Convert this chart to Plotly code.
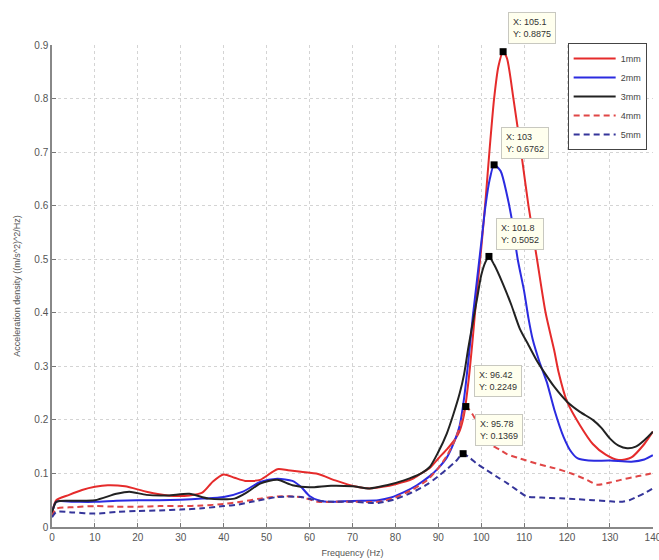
import plotly.graph_objects as go

# ---------------- data ----------------
f_1mm = [0, 1, 4, 7, 10, 13, 17, 22, 27, 32, 35, 37.5, 40, 42.5, 45, 48.5, 52.5, 55, 58, 62, 66, 71, 74,
         77, 80, 84, 86, 88, 90, 92, 94, 95, 96, 97, 98, 99, 100, 101, 102, 103, 104, 105.1, 106, 107.5,
         109.3, 111, 113, 115, 117, 118, 120, 123, 126, 129, 132, 135, 138, 140]
v_1mm = [0.025, 0.05, 0.06, 0.069, 0.075, 0.078, 0.076, 0.066, 0.059, 0.059, 0.064, 0.085, 0.098, 0.092,
         0.086, 0.088, 0.108, 0.106, 0.103, 0.099, 0.087, 0.075, 0.072, 0.075, 0.08, 0.09, 0.1, 0.11, 0.128,
         0.145, 0.165, 0.18, 0.21, 0.27, 0.35, 0.44, 0.52, 0.61, 0.71, 0.8, 0.86, 0.8875, 0.875, 0.8,
         0.7, 0.6, 0.5, 0.4, 0.33, 0.29, 0.234, 0.19, 0.155, 0.135, 0.125, 0.13, 0.155, 0.178]

f_2mm = [0, 1, 5, 10, 15, 20, 25, 30, 35, 40, 44.5, 48.5, 52.5, 56, 58, 60, 62, 64, 68, 72, 76, 79, 82,
         85, 88, 90, 92, 94, 95, 96, 97, 98, 99, 100, 101, 102, 103, 104.5, 106, 107, 108.5, 110, 111,
         112, 113.5, 115.3, 117, 119.2, 121, 122.5, 125, 130, 135, 138, 140]
v_2mm = [0.025, 0.047, 0.047, 0.047, 0.049, 0.05, 0.05, 0.051, 0.053, 0.056, 0.066, 0.084, 0.09, 0.086,
         0.075, 0.058, 0.05, 0.047, 0.048, 0.049, 0.05, 0.055, 0.065, 0.078, 0.095, 0.11, 0.13, 0.165,
         0.19, 0.24, 0.31, 0.39, 0.46, 0.53, 0.6, 0.65, 0.6762, 0.665, 0.62, 0.58, 0.5, 0.44, 0.39,
         0.35, 0.31, 0.27, 0.22, 0.168, 0.14, 0.128, 0.124, 0.124, 0.122, 0.126, 0.134]

f_3mm = [0, 1, 5, 10, 15, 18, 22, 27, 32, 36.5, 42.5, 45.5, 48.5, 52.5, 56, 60, 65, 70, 74, 78, 82, 86,
         88, 90, 92, 93.5, 95, 96, 97, 98, 99, 100, 101, 101.8, 103, 105, 107, 109, 111, 113, 115, 117,
         120, 123, 126, 128, 130, 132, 134, 136, 138, 140]
v_3mm = [0.025, 0.047, 0.049, 0.05, 0.062, 0.066, 0.06, 0.059, 0.062, 0.053, 0.053, 0.065, 0.081, 0.088,
         0.078, 0.074, 0.077, 0.076, 0.072, 0.078, 0.087, 0.1, 0.112, 0.14, 0.175, 0.21, 0.25, 0.285,
         0.335, 0.38, 0.425, 0.47, 0.495, 0.5052, 0.49, 0.455, 0.415, 0.37, 0.34, 0.31, 0.285, 0.262,
         0.234, 0.215, 0.2, 0.185, 0.165, 0.152, 0.147, 0.15, 0.162, 0.178]

f_4mm = [0, 1, 5, 10, 15, 20, 25, 30, 35, 40, 44, 48.5, 52.5, 58, 62, 66, 70, 76, 80, 84, 87.5, 90, 92,
         94, 95.5, 96.42, 98, 100, 102, 104.4, 106, 109, 113, 117, 121, 124.6, 127, 130, 132.5, 136,
         139.5, 140]
v_4mm = [0.02, 0.034, 0.037, 0.039, 0.038, 0.038, 0.039, 0.039, 0.04, 0.043, 0.047, 0.053, 0.057, 0.056,
         0.047, 0.047, 0.047, 0.047, 0.055, 0.07, 0.088, 0.11, 0.133, 0.165, 0.2, 0.2249, 0.21, 0.18,
         0.155, 0.144, 0.136, 0.128, 0.118, 0.11, 0.1, 0.088, 0.079, 0.083, 0.088, 0.094, 0.1, 0.104]

f_5mm = [0, 1, 5, 10, 15, 20, 25, 30, 35, 40, 43.5, 46.5, 52.5, 58, 62, 66, 70, 76, 80, 84, 87.5, 90, 92,
         94, 95.78, 97.5, 99, 101.3, 104, 106, 108.5, 110.6, 114, 118.4, 122, 126.2, 130, 132.4, 134.5,
         136.3, 138, 140]
v_5mm = [0.018, 0.028, 0.027, 0.025, 0.028, 0.03, 0.031, 0.0325, 0.035, 0.039, 0.042, 0.047, 0.056, 0.056,
         0.049, 0.047, 0.047, 0.045, 0.052, 0.065, 0.08, 0.095, 0.108, 0.122, 0.1369, 0.128, 0.118,
         0.106, 0.092, 0.082, 0.068, 0.057, 0.055, 0.0535, 0.052, 0.05, 0.048, 0.047, 0.05, 0.0565,
         0.063, 0.072]

series_names = ["1mm", "2mm", "3mm", "4mm", "5mm"]
series_f = [f_1mm, f_2mm, f_3mm, f_4mm, f_5mm]
series_v = [v_1mm, v_2mm, v_3mm, v_4mm, v_5mm]
series_color = ["#e52b2b", "#2b2be0", "#222222", "#e04646", "#35359a"]
series_dash = ["solid", "solid", "solid", "6px,4px", "6px,4px"]

# data tips: (x, y) of marked points
tip_x = [105.1, 103, 101.8, 96.42, 95.78]
tip_y = [0.8875, 0.6762, 0.5052, 0.2249, 0.1369]
tip_text = ["X: 105.1<br>Y: 0.8875", "X: 103<br>Y: 0.6762", "X: 101.8<br>Y: 0.5052",
            "X: 96.42<br>Y: 0.2249", "X: 95.78<br>Y: 0.1369"]
tip_shift = [(5, 8), (7, 6), (7, 6), (8, 10), (12, 8)]

x_ticks = list(range(0, 141, 10))
y_ticks = [0, 0.1, 0.2, 0.3, 0.4, 0.5, 0.6, 0.7, 0.8, 0.9]
y_ticktext = ["0", "0.1", "0.2", "0.3", "0.4", "0.5", "0.6", "0.7", "0.8", "0.9"]

# ---------------- figure ----------------
fig = go.Figure()
for name, fx, vy, col, dash in zip(series_names, series_f, series_v, series_color, series_dash):
    fig.add_trace(go.Scatter(
        x=fx, y=vy, mode="lines", name=name,
        line=dict(color=col, width=2, dash=dash, shape="spline", smoothing=0.7),
    ))

fig.add_trace(go.Scatter(
    x=tip_x, y=tip_y, mode="markers", showlegend=False,
    marker=dict(symbol="square", size=7, color="black"),
))

for tx, ty, tt, (sx, sy) in zip(tip_x, tip_y, tip_text, tip_shift):
    fig.add_annotation(
        x=tx, y=ty, xref="x", yref="y", text=tt, showarrow=False,
        xanchor="left", yanchor="bottom", xshift=sx, yshift=sy, align="left",
        font=dict(family="Liberation Sans, Arial, sans-serif", size=9, color="#333333"),
        bgcolor="#ffffee", bordercolor="#c8c8c0", borderwidth=1, borderpad=4,
    )

axis_font = dict(family="Liberation Sans, Arial, sans-serif", size=10, color="#555555")

fig.update_layout(
    width=659, height=560,
    margin=dict(l=52, r=6, t=45, b=33),
    paper_bgcolor="white", plot_bgcolor="white",
    font=axis_font,
    showlegend=True,
    legend=dict(
        x=0.858, y=1.004, xanchor="left", yanchor="top",
        bgcolor="white", bordercolor="#444444", borderwidth=1,
        font=dict(family="Liberation Sans, Arial, sans-serif", size=9, color="#444444"),
        tracegroupgap=0, itemwidth=42,
    ),
    xaxis=dict(
        range=[0, 140.02], tickmode="array", tickvals=x_ticks,
        ticks="inside", ticklen=4, tickcolor="#777777", ticklabeloverflow="allow",
        showline=True, linecolor="#888888", linewidth=1.5,
        showgrid=True, gridcolor="#d4d4d4", griddash="dot", gridwidth=1,
        zeroline=False, automargin=False,
        title=dict(text="Frequency (Hz)", standoff=8,
                   font=dict(family="Liberation Sans, Arial, sans-serif", size=9, color="#555555")),
        tickfont=axis_font,
    ),
    yaxis=dict(
        range=[0, 0.9], tickmode="array", tickvals=y_ticks, ticktext=y_ticktext,
        ticks="inside", ticklen=4, tickcolor="#777777",
        showline=True, linecolor="#888888", linewidth=1.5,
        showgrid=True, gridcolor="#d4d4d4", griddash="dot", gridwidth=1,
        zeroline=False, automargin=False,
        title=dict(text="Acceleration density ((m/s^2)^2/Hz)", standoff=12,
                   font=dict(family="Liberation Sans, Arial, sans-serif", size=9, color="#555555")),
        tickfont=axis_font,
    ),
)

fig.write_html("out.html")
